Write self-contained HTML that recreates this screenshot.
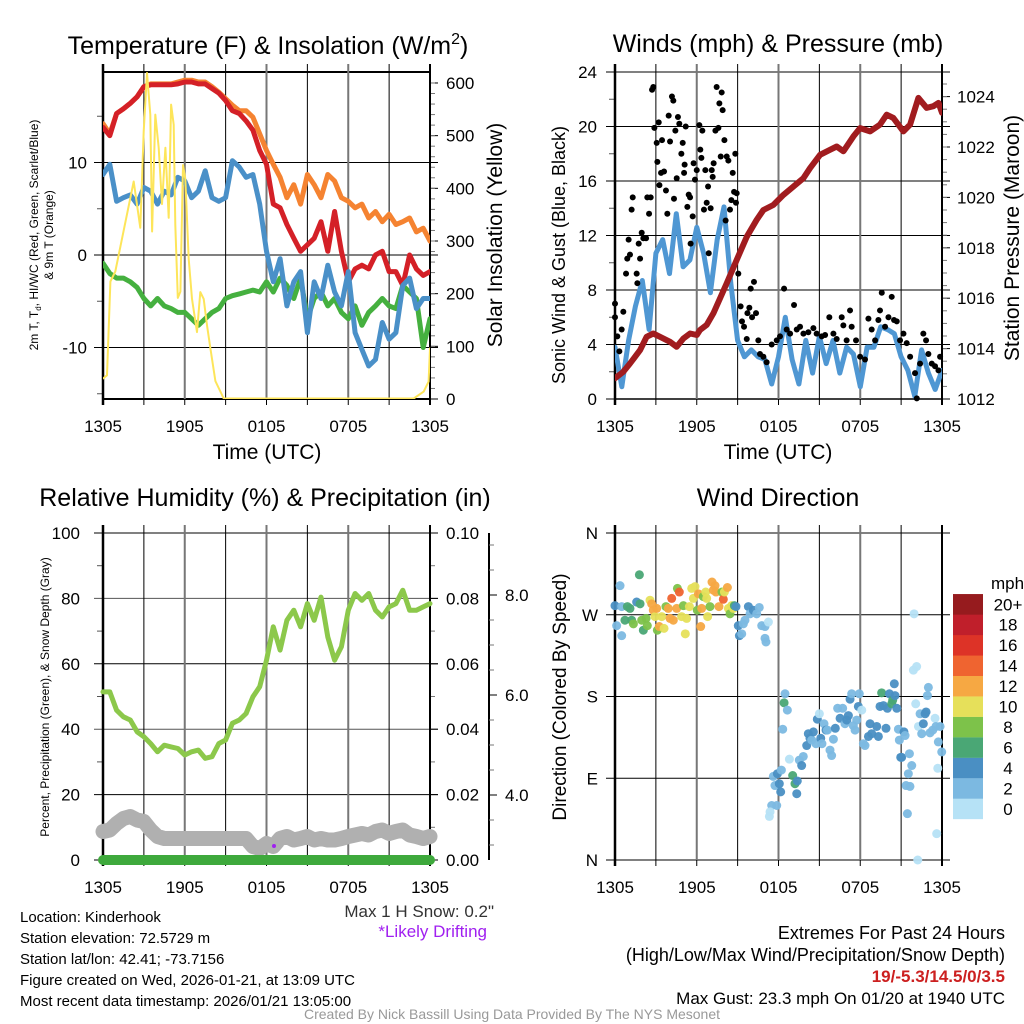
<!DOCTYPE html>
<html><head><meta charset="utf-8"><style>
html,body{margin:0;padding:0;background:#fff}
svg{display:block;font-family:"Liberation Sans",sans-serif}
</style></head><body>
<svg id="c" width="1024" height="1024" viewBox="0 0 1024 1024" xmlns="http://www.w3.org/2000/svg">
<defs>
<clipPath id="cp1"><rect x="103" y="72" width="327" height="327"/></clipPath>
<clipPath id="cp2"><rect x="615" y="72" width="327" height="327"/></clipPath>
</defs>
<g id="p1"></g>
<g id="p2"></g>
<g id="p3"></g>
<g id="p4"></g>
<g font-size="25" text-anchor="middle" fill="#000">
<text x="268" y="54">Temperature (F) &amp; Insolation (W/m<tspan dy="-10" font-size="16">2</tspan><tspan dy="10">)</tspan></text>
<text x="778" y="52">Winds (mph) &amp; Pressure (mb)</text>
<text x="265" y="506">Relative Humidity (%) &amp; Precipitation (in)</text>
<text x="778" y="506">Wind Direction</text>
</g>
<g font-size="21" text-anchor="middle">
<text x="267" y="459">Time (UTC)</text>
<text x="778" y="459">Time (UTC)</text>
<text transform="translate(502,235) rotate(-90)">Solar Insolation (Yellow)</text>
<text transform="translate(1019,238) rotate(-90)">Station Pressure (Maroon)</text>
</g>
<text transform="translate(566,697) rotate(-90)" font-size="19" text-anchor="middle">Direction (Colored By Speed)</text>
<text transform="translate(565,255) rotate(-90)" font-size="18" text-anchor="middle">Sonic Wind &amp; Gust (Blue, Black)</text>
<g font-size="12" text-anchor="middle">
<text transform="translate(38,235) rotate(-90)">2m T, T<tspan font-size="8" dy="3">d</tspan><tspan dy="-3">, HI/WC (Red, Green, Scarlet/Blue)</tspan></text>
<text transform="translate(53,235) rotate(-90)">&amp; 9m T (Orange)</text>
<text transform="translate(49,697) rotate(-90)">Percent, Precipitation (Green), &amp; Snow Depth (Gray)</text>
</g>
<g font-size="15" fill="#000">
<text x="20" y="922">Location: Kinderhook</text>
<text x="20" y="943">Station elevation: 72.5729 m</text>
<text x="20" y="964">Station lat/lon: 42.41; -73.7156</text>
<text x="20" y="985">Figure created on Wed, 2026-01-21, at 13:09 UTC</text>
<text x="20" y="1006">Most recent data timestamp: 2026/01/21 13:05:00</text>
</g>
<g font-size="17">
<text x="494" y="917" text-anchor="end" fill="#333">Max 1 H Snow: 0.2"</text>
<text x="487" y="937" text-anchor="end" fill="#a020f0">*Likely Drifting</text>
</g>
<g font-size="18">
<text x="1005" y="939" text-anchor="end">Extremes For Past 24 Hours</text>
<text x="1005" y="961" text-anchor="end">(High/Low/Max Wind/Precipitation/Snow Depth)</text>
<text x="1005" y="982" text-anchor="end" fill="#cc2020" font-weight="bold" font-size="17">19/-5.3/14.5/0/3.5</text>
<text x="1005" y="1004" text-anchor="end" font-size="17">Max Gust: 23.3 mph On 01/20 at 1940 UTC</text>
</g>
<text x="512" y="1019" font-size="14" text-anchor="middle" fill="#999">Created By Nick Bassill Using Data Provided By The NYS Mesonet</text>
</svg>
<script>
// ---------- data ----------
const xTickLabels = ["1305","1905","0105","0705","1305"];
const tempTicks = [10,0,-10];
const solarTicks = [0,100,200,300,400,500,600];
const windTicks = [0,4,8,12,16,20,24];
const presTicks = [1012,1014,1016,1018,1020,1022,1024];
const rhTicks = [0,20,40,60,80,100];
const precipTicks = ["0.00","0.02","0.04","0.06","0.08","0.10"];
const snowTicks = ["4.0","6.0","8.0"];
const dirTicks = ["N","E","S","W","N"];
const speedBins = ["0","2","4","6","8","10","12","14","16","18","20+"];
const speedColors = ["#b6e2f6","#7cb9e1","#4a8fc3","#4aa775","#7dc24a","#e6e05a","#f6a843","#ef6430","#dd3327","#c01f2b","#961b1e"];

const tempRed = [13.8,12.9,15.3,15.8,16.4,17.1,18.2,18.4,18.4,18.4,18.4,18.5,18.7,18.7,18.5,18.5,18.0,17.5,16.7,15.6,15.3,14.5,13.5,11.3,9.8,5.5,5.1,3.3,1.8,0.4,1.1,1.8,3.6,0.4,4.7,0.4,-2.9,-1.5,-1.1,-1.5,0,0.4,-1.8,-1.8,-3.3,0,-1.5,-2.2,-1.8];
const tempOrange = [14.2,13.1,15.3,15.8,16.4,17.1,18.2,18.5,18.5,18.5,18.5,18.7,18.9,18.9,18.7,18.7,18.2,17.6,16.9,16.2,15.6,15.6,14.9,13.1,11.3,9.8,8.4,6.2,7.6,5.5,8.7,7.6,6.2,8.7,8.0,6.2,5.8,5.1,5.5,4.0,4.7,3.6,4.4,3.3,3.6,4.0,2.5,2.9,1.5];
const tempBlue = [8.7,9.8,5.8,6.2,6.5,5.5,7.3,6.9,5.5,6.9,6.5,8.4,8.0,6.2,6.9,9.1,6.2,5.8,6.2,10.2,9.5,8.4,8.7,5.5,0.4,-2.9,-0.4,-5.5,-2.9,-1.8,-8.4,-2.9,-4.7,-1.1,-4.0,-5.5,-1.8,-8.4,-10.2,-12.0,-11.3,-7.3,-9.1,-8.4,-3.3,-2.5,-5.8,-4.7,-4.7];
const tempGreen = [-0.9,-2.0,-2.5,-2.5,-2.9,-3.5,-4.7,-5.5,-4.7,-5.5,-5.8,-6.2,-6.2,-6.9,-7.6,-6.9,-6.2,-5.8,-4.7,-4.4,-4.2,-4.0,-3.8,-4.0,-2.9,-4.0,-2.5,-3.3,-4.7,-2.5,-6.9,-4.7,-4.0,-5.5,-4.7,-6.2,-6.9,-5.5,-7.6,-6.2,-5.5,-4.7,-5.5,-5.8,-3.3,-4.0,-4.7,-10.0,-6.9];
const solarHours = [0,0.29,0.54,0.9,2.25,2.74,2.99,3.23,3.47,3.6,3.84,4.09,4.33,4.58,4.82,5.0,5.19,5.31,5.49,5.68,5.87,6.04,6.29,6.53,6.9,7.14,7.39,7.63,7.88,8.25,8.86,22.8,23.54,23.9,24];
const solarValues = [39,45,223,242,413,325,508,619,540,318,540,477,370,477,344,559,521,331,192,204,444,418,266,190,127,203,190,140,96,34,1,1,14,33,96];

const windSpeed = [3.8,0.9,4.3,6.8,8.7,5.1,10.7,11.7,9.2,13.6,9.7,10.2,12.6,10.7,7.8,11.7,14.1,8.5,4.3,3.1,3.6,3.1,2.9,1.1,3.1,6.0,2.9,1.1,4.3,1.9,4.6,2.6,4.3,1.9,3.8,3.3,0.9,3.8,3.8,5.3,5.1,4.8,3.1,2.1,0.2,3.6,1.9,0.7,2.1];
const presHours = [0,0.61,1.10,1.84,2.32,2.81,3.30,4.04,4.53,5.02,5.51,6.00,6.24,6.73,7.22,8.2,8.93,9.67,10.4,10.89,11.62,12.36,13.09,13.83,14.31,15.05,15.78,16.27,16.76,17.5,17.99,18.72,19.45,19.94,20.43,21.17,21.66,22.27,22.88,23.37,23.74,24];
const presValues = [1012.82,1013.08,1013.41,1013.94,1014.47,1014.60,1014.47,1014.27,1014.07,1014.40,1014.60,1014.54,1014.74,1014.94,1015.40,1016.59,1017.52,1018.44,1019.11,1019.50,1019.70,1020.10,1020.43,1020.76,1021.16,1021.69,1021.89,1022.02,1021.83,1022.42,1022.75,1022.62,1022.89,1023.28,1023.15,1022.62,1022.89,1023.95,1023.55,1023.62,1023.75,1023.36];
const gustHours = [0,0,0.17,0.32,0.49,0.61,0.81,0.9,1.1,1.0,1.22,1.3,1.59,1.64,1.74,1.84,1.96,2.08,2.28,2.37,2.5,2.62,2.72,2.81,2.89,3.06,3.11,3.21,3.26,3.38,3.45,3.6,3.74,3.84,3.94,4.04,4.18,4.28,4.33,4.43,4.53,4.62,4.72,4.87,4.97,5.07,5.11,5.19,5.31,5.41,5.51,5.55,5.7,5.77,5.87,6.0,6.19,6.26,6.34,6.41,6.53,6.63,6.73,6.83,6.88,7.02,7.1,7.17,7.24,7.37,7.46,7.59,7.66,7.76,7.83,7.9,8.03,8.12,8.2,8.32,8.44,8.54,8.64,8.74,8.83,8.88,8.93,9.05,9.22,9.32,9.47,9.67,9.72,9.86,9.96,10.2,10.06,10.35,10.52,10.64,10.89,11.13,11.5,11.87,12.11,12.41,12.6,12.85,13.14,13.34,13.58,13.83,14.19,14.56,14.8,15.17,15.42,15.73,16.03,16.27,16.64,16.76,17.0,17.25,17.37,17.69,17.99,18.35,18.6,18.84,19.09,19.33,19.45,19.58,19.82,20.07,20.31,20.48,20.68,20.92,21.17,21.41,21.66,22.02,22.15,22.39,22.63,22.83,23.0,23.25,23.49,23.74,23.86];
const gustValues = [7.0,6.0,4.6,3.5,5.1,6.4,9.2,10.3,10.6,11.7,13.9,14.8,9.2,8.5,11.4,10.3,12.2,11.8,11.8,14.8,13.6,14.8,22.7,22.9,19.9,18.8,17.4,20.3,15.7,16.6,19.0,16.7,15.3,13.6,20.8,18.9,22.2,21.9,14.7,19.7,16.2,20.7,20.2,18.0,18.8,16.6,17.2,20.0,14.1,15.0,14.8,11.4,13.4,17.3,16.1,16.8,20.1,18.3,17.7,19.7,13.9,16.8,14.4,15.6,10.7,14.0,16.8,16.3,17.3,19.7,22.9,19.9,21.7,17.8,22.5,21.2,19.0,13.1,17.8,17.5,13.9,14.6,16.6,15.2,18.0,14.4,15.1,9.2,6.8,5.7,5.3,4.4,6.3,6.7,8.1,8.6,6.0,6.3,4.3,3.3,3.1,2.7,4.0,4.3,4.6,8.1,5.1,4.8,6.9,5.1,5.3,4.8,4.9,5.2,4.8,4.6,4.7,6.0,4.8,4.4,6.0,5.4,4.3,6.5,5.3,4.3,3.1,2.9,5.9,5.1,4.3,5.8,6.5,7.8,5.3,6.0,7.5,5.8,5.7,4.3,4.8,4.1,3.1,1.9,0.05,2.6,4.8,4.3,3.3,2.6,2.4,2.1,3.1];

const rhValues = [51.4,51.4,45.8,43.8,42.8,39.2,37.7,35.6,33.1,35.1,34.6,34.1,32.1,33.1,33.6,31.1,31.6,35.6,36.7,41.8,42.8,44.8,49.9,53.0,61.1,71.3,64.2,73.3,76.4,71.3,78.4,73.3,80.4,68.2,61.1,65.2,76.4,81.5,79.4,81.5,76.4,74.3,77.4,78.4,82.5,76.4,76.4,77.4,78.4];
const snowDepth = [3.27,3.30,3.43,3.53,3.57,3.50,3.47,3.30,3.17,3.13,3.13,3.13,3.13,3.13,3.13,3.13,3.13,3.13,3.13,3.13,3.13,3.13,2.97,2.93,3.03,2.97,3.13,3.17,3.10,3.13,3.17,3.10,3.13,3.10,3.10,3.13,3.17,3.20,3.23,3.20,3.27,3.30,3.23,3.27,3.30,3.20,3.17,3.13,3.17];
const precipValues = [0,0,0,0,0,0,0,0,0,0,0,0,0,0,0,0,0,0,0,0,0,0,0,0,0,0,0,0,0,0,0,0,0,0,0,0,0,0,0,0,0,0,0,0,0,0,0,0,0];
const driftHours = [12.55];
const driftDepth = [2.98];

const dirHours = [0,0.37,0.49,0.12,0.49,0.73,0.91,1.10,1.22,1.35,1.59,1.79,1.84,1.96,2.08,2.28,2.37,2.57,2.69,2.81,2.94,3.06,3.11,3.25,3.43,3.60,3.74,3.91,4.04,4.16,4.28,4.53,4.58,4.72,4.89,5.02,5.16,5.26,5.46,5.63,5.75,5.87,6.04,6.12,6.29,6.36,6.48,6.66,6.73,6.80,6.97,7.12,7.22,7.34,7.41,7.63,7.85,7.95,8.03,8.25,8.32,8.44,8.56,8.69,8.76,8.88,9.05,9.13,9.30,9.42,9.54,9.79,9.91,10.15,10.40,10.59,10.77,11.01,11.26,11.01,11.08,
11.62,11.74,11.92,12.06,12.16,12.21,11.87,11.50,11.38,11.33,12.31,12.48,12.41,12.65,12.80,13.04,13.21,13.34,13.38,13.53,13.70,13.82,14.07,14.19,14.31,14.44,14.56,14.75,14.85,15.00,15.10,15.19,15.34,15.49,15.59,15.78,15.90,16.03,16.17,16.34,16.52,16.71,16.88,17.01,17.13,17.25,17.37,17.49,17.62,17.74,17.86,17.93,18.11,18.23,18.35,18.60,18.72,18.84,19.21,19.33,19.45,19.57,19.70,19.89,19.99,20.14,20.31,20.38,20.50,20.55,20.68,20.80,20.87,20.97,21.04,21.21,21.29,21.61,21.78,21.53,21.36,21.65,21.46,21.95,21.90,22.14,22.07,22.39,22.27,22.51,22.63,22.76,22.83,22.93,23.00,23.12,23.32,23.49,23.56,23.86,23.73,23.98,23.69,23.61,22.22];
const dirDegrees = [280,302,279,258,247,264,279,277,264,260,284,314,282,264,253,266,258,286,282,275,268,277,253,257,268,255,279,277,266,288,264,277,299,295,268,280,249,266,279,299,288,301,275,293,257,277,290,295,288,268,279,306,297,302,295,279,295,287,295,300,277,271,280,277,280,279,258,247,249,260,264,279,271,275,271,278,258,257,262,244,240,
92,82,95,84,75,99,60,60,53,48,144,183,173,165,111,93,84,73,87,110,104,114,126,139,134,132,141,128,155,161,134,128,150,143,143,121,115,133,145,167,156,167,150,154,159,177,183,148,143,154,169,183,165,128,126,136,150,139,147,136,169,184,170,145,167,183,172,176,194,181,167,144,132,113,113,141,137,117,104,95,82,81,51,271,209,213,172,161,147,139,150,161,163,181,190,140,143,156,147,147,130,119,101,29,0];
const dirSpeeds = [5,3,3,2.5,3,7,7,7,6.5,9,5,7,7,8.5,6.5,9,9,11,13,12,10,13,9,12.5,10.5,11,9,12,12.5,15,12.5,13,8.5,15,10,8,11,11,10.5,10,10,11,9,12.5,13,12.5,9,10,11,10,8,12,13,12.5,13,12,9,15,10.5,12,10,9,11,10,7,5,5,5,3,3,3.5,5,3.5,4.5,3.5,3,3,3,1.5,3,3,
3,3,4.5,5,5,3,3,3,1.5,1,3,2.5,7,3,1,7,6.5,4.5,5,3,4.5,3,4,4.5,5,3,5,3,5,1.5,4,3,3,4,3,3,3,3,5,3,4.5,3,3,4,5,5,3,3,3,3,4.5,3,1.5,3,3,4.5,4.5,5,4.5,4.5,5,7,4.5,4.5,4.5,5,7,6.5,5,4.5,4.5,3,3,5,4.5,4,3,3,3,3,3,3,3,1,1,1,1.5,3,1,3,4.5,4.5,4.5,3,3,3,3,1.5,3,3,3,3,1.5,1.5,1.5];

// ---------- helpers ----------
const NS="http://www.w3.org/2000/svg";
function mk(parent,tag,attrs){const e=document.createElementNS(NS,tag);for(const k in attrs)e.setAttribute(k,attrs[k]);parent.appendChild(e);return e;}
const x1=h=>103+h*13.625, x2=h=>615+h*13.625;
const yT=t=>255-t*9.25, yS=w=>399-w*0.5267;
const yW=v=>399-v*13.625, yP=p=>399-(p-1012)*25.2;
const yRH=r=>860-r*3.27, yPr=p=>860-p*3270, ySnow=s=>995-50*s;
const yD=d=>860-d*327/360;
const halfHours=i=>i*0.5;
function pathOf(xs,ys){return xs.map((x,i)=>(i?"L":"M")+x.toFixed(1)+" "+ys[i].toFixed(1)).join(" ");}

function frame(g,x0,yTop,yBot){
  for(let k=1;k<8;k++){
    const x=x0+k*40.875;
    const l=mk(g,"line",{x1:x,y1:yTop-8,x2:x,y2:yBot,stroke:k%2==0?"#777":"#000","stroke-width":k%2==0?2:1});
    
    
    mk(g,"line",{x1:x,y1:yBot,x2:x,y2:yBot+6,stroke:"#000"});
  }
  const ax=mk(g,"line",{x1:x0,y1:yTop-8,x2:x0,y2:yBot+6,stroke:"#000","stroke-width":2.5});
  
  
  const ar=mk(g,"line",{x1:x0+327,y1:yTop-8,x2:x0+327,y2:yBot+6,stroke:"#000","stroke-width":2});
  
  
  xTickLabels.forEach((lab,i)=>{
    const t=mk(g,"text",{x:x0+i*81.75,y:yBot+33,"font-size":17,"text-anchor":"middle"});
    t.textContent=lab;
    
    
  });
}
function hline(g,x0,y,color){const l=mk(g,"line",{x1:x0-9,y1:y,x2:x0+335,y2:y,stroke:color||"#000","stroke-width":1});
  
  }
function label(g,x,y,txt,anchor,name,fs){const t=mk(g,"text",{x:x,y:y+6,"font-size":fs||17,"text-anchor":anchor});t.textContent=txt;
  
  }
function line(g,xs,ys,color,w,clip,name){const p=mk(g,"path",{d:pathOf(xs,ys),fill:"none",stroke:color,"stroke-width":w,"stroke-linejoin":"round","stroke-linecap":"round"});
  if(clip)p.setAttribute("clip-path","url(#"+clip+")");
  
  return p;}

// ---------- panel 1 ----------
const g1=document.getElementById("p1");
mk(g1,"line",{x1:103,y1:72,x2:430,y2:72,stroke:"#000","stroke-width":2});
mk(g1,"line",{x1:103,y1:399,x2:430,y2:399,stroke:"#000","stroke-width":2});
tempTicks.forEach(t=>{hline(g1,103,yT(t));label(g1,87,yT(t),String(t),"end","temp-tick-label");});
[15,5,-5,-15].forEach(t=>mk(g1,"line",{x1:97,y1:yT(t),x2:103,y2:yT(t),stroke:"#555"}));
solarTicks.forEach(w=>{mk(g1,"line",{x1:430,y1:yS(w),x2:438,y2:yS(w),stroke:"#000"});label(g1,446,yS(w),String(w),"start","solar-tick-label");});
for(let w=20;w<620;w+=20)mk(g1,"line",{x1:430,y1:yS(w),x2:435,y2:yS(w),stroke:"#777"});
frame(g1,103,72,399);
const hh=tempRed.map((_,i)=>halfHours(i));
line(g1,hh.map(x1),tempOrange.map(yT),"#f58331",5,"cp1","series-9m-temp");
line(g1,hh.map(x1),tempRed.map(yT),"#d42027",5,"cp1","series-2m-temp");
line(g1,hh.map(x1),tempGreen.map(yT),"#45b03f",5,"cp1","series-dewpoint");
line(g1,hh.map(x1),tempBlue.map(yT),"#4a90c8",5,"cp1","series-wind-chill");
line(g1,solarHours.map(x1),solarValues.map(yS),"#fde55a",2,"cp1","series-solar");

// ---------- panel 2 ----------
const g2=document.getElementById("p2");
mk(g2,"line",{x1:615,y1:399,x2:942,y2:399,stroke:"#000","stroke-width":1.5});
windTicks.forEach(v=>{hline(g2,615,yW(v));label(g2,597,yW(v),String(v),"end","wind-tick-label");});
[2,6,10,14,18,22].forEach(v=>mk(g2,"line",{x1:609,y1:yW(v),x2:615,y2:yW(v),stroke:"#555"}));
presTicks.forEach(p=>{mk(g2,"line",{x1:942,y1:yP(p),x2:950,y2:yP(p),stroke:"#000"});label(g2,957,yP(p),String(p),"start","pressure-tick-label");});
for(let p=1012.5;p<1025;p+=0.5)mk(g2,"line",{x1:942,y1:yP(p),x2:947,y2:yP(p),stroke:"#777"});
frame(g2,615,72,399);
line(g2,hh.map(x2),windSpeed.map(yW),"#4f97d3",5,"cp2","series-wind-speed");
line(g2,presHours.map(x2),presValues.map(yP),"#a11c1f",6,"cp2","series-pressure");
gustHours.forEach((h,i)=>{const c=mk(g2,"circle",{cx:x2(h),cy:yW(gustValues[i]),r:3,fill:"#000"});
  
  });

// ---------- panel 3 ----------
const g3=document.getElementById("p3");
rhTicks.forEach((r,i)=>{hline(g3,103,yRH(r),(r==40||r==80)?"#555":"#000");label(g3,80,yRH(r),String(r),"end","rh-tick-label");
  mk(g3,"line",{x1:430,y1:yRH(r),x2:438,y2:yRH(r),stroke:"#000"});label(g3,446,yRH(r),precipTicks[i],"start","precip-tick-label");});
[10,30,50,70,90].forEach(r=>{mk(g3,"line",{x1:97,y1:yRH(r),x2:103,y2:yRH(r),stroke:"#555"});mk(g3,"line",{x1:430,y1:yRH(r),x2:435,y2:yRH(r),stroke:"#777"});});
frame(g3,103,533,860);
const sax=mk(g3,"line",{x1:489,y1:533,x2:489,y2:860,stroke:"#000","stroke-width":2});


snowTicks.forEach(s=>{const v=parseFloat(s);mk(g3,"line",{x1:489,y1:ySnow(v),x2:497,y2:ySnow(v),stroke:"#000"});label(g3,505,ySnow(v),s,"start","snow-tick-label");});
[3.0,3.5,4.5,5,5.5,6.5,7,7.5,8.5,9].forEach(s=>mk(g3,"line",{x1:489,y1:ySnow(s),x2:494,y2:ySnow(s),stroke:"#777"}));
line(g3,hh.map(x1),snowDepth.map(ySnow),"#b0b0b0",15,null,"series-snow-depth");
line(g3,hh.map(x1),precipValues.map(yPr),"#3ea93c",10,null,"series-precipitation");
line(g3,hh.map(x1),rhValues.map(yRH),"#8cc84b",5,null,"series-relative-humidity");
driftHours.forEach((h,i)=>{const c=mk(g3,"circle",{cx:x1(h),cy:ySnow(driftDepth[i]),r:2,fill:"#a020f0"});
  
  });

// ---------- panel 4 ----------
const g4=document.getElementById("p4");
dirTicks.forEach((d,i)=>{hline(g4,615,yD(i*90));label(g4,598,yD(i*90),d,"end","direction-tick-label");});
frame(g4,615,533,860);
dirHours.forEach((h,i)=>{
  const bin=Math.min(10,Math.floor(dirSpeeds[i]/2));
  const c=mk(g4,"circle",{cx:x2(h),cy:yD(dirDegrees[i]),r:4.5,fill:speedColors[bin],"fill-opacity":0.95});
  
  
});
const mph=mk(g4,"text",{x:991,y:589,"font-size":17});mph.textContent="mph";


speedBins.forEach((lab,i)=>{
  const y=819-(i+1)*20.45;
  const r=mk(g4,"rect",{x:953,y:y,width:30,height:20.6,fill:speedColors[i]});
  
  
  label(g4,1008,y+10.2,lab,"middle","colorbar-label");
});
</script>
</body></html>
